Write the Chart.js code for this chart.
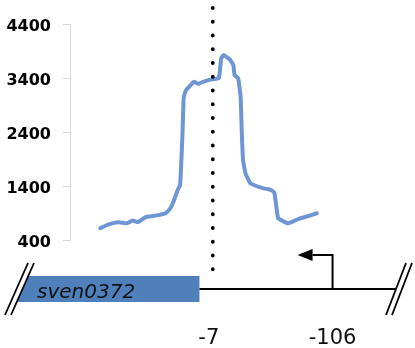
<!DOCTYPE html>
<html>
<head>
<meta charset="utf-8">
<script src="https://cdn.jsdelivr.net/npm/chart.js@4"></script>
<style>
  html, body { margin: 0; padding: 0; background: #fff; }
  #wrap { width: 415px; height: 348px; }
</style>
</head>
<body>
<div id="wrap"><canvas id="chart"></canvas></div>
<script>
// position relative to the sven0372 start (bp) and the signal read at it
const positions = [86, 79, 71, 64, 59, 55, 48, 42, 37, 32, 28, 26, 24, 22, 20, 18, 17, 15, 12, 9, 8, 5, 1,
  -6, -12, -14, -16, -21, -24, -25, -28, -30, -31, -32, -34, -38, -43, -49, -53, -56, -58, -61, -65, -69,
  -74, -79, -86, -93];
const signal = [620, 690, 730, 710, 760, 730, 830, 845, 865, 895, 990, 1080, 1200, 1325, 1420, 2380, 3050,
  3180, 3250, 3325, 3330, 3290, 3330, 3375, 3395, 3765, 3825, 3745, 3640, 3455, 3395, 3055, 2380, 1880,
  1635, 1450, 1400, 1355, 1340, 1315, 1265, 800, 750, 710, 750, 800, 845, 895];
const yTicks = [400, 1400, 2400, 3400, 4400];

// gene map drawn under the plot
const geneName = 'sven0372';
const geneEnd = 4;
const markPos = -7;
const tssPos = -106;
const mapEnd = -158;
const mapLabels = ['-7', '-106'];

const points = positions.map((p, i) => ({ x: p, y: signal[i] }));

function slash(ctx, x1, y1, x2, y2) {
  ctx.beginPath();
  ctx.moveTo(x1, y1);
  ctx.lineTo(x2, y2);
  ctx.stroke();
}

const mapPlugin = {
  id: 'geneMap',
  afterDraw(chart) {
    const ctx = chart.ctx;
    const xs = chart.scales.x;
    const px = v => xs.getPixelForValue(v);
    const yLine = 289;
    ctx.save();

    // gene box
    ctx.fillStyle = '#4f80bc';
    ctx.fillRect(14, 276, px(geneEnd) - 14, 26);
    // white gap of the left break mark
    ctx.fillStyle = '#fff';
    ctx.beginPath();
    ctx.moveTo(0, 255);
    ctx.lineTo(11 + 60 * 23 / 52, 255);
    ctx.lineTo(11 - 5 * 23 / 52, 320);
    ctx.lineTo(0, 320);
    ctx.closePath();
    ctx.fill();

    ctx.strokeStyle = '#000';
    ctx.lineWidth = 1.8;
    slash(ctx, 5, 315, 28, 263);
    slash(ctx, 11, 315, 34, 263);
    slash(ctx, 386, 315, 406, 263);
    slash(ctx, 392, 315, 412, 263);

    // promoter line and arrow
    ctx.lineWidth = 2;
    ctx.beginPath();
    ctx.moveTo(px(geneEnd), yLine);
    ctx.lineTo(px(mapEnd), yLine);
    ctx.stroke();
    const xt = px(tssPos);
    ctx.beginPath();
    ctx.moveTo(xt, yLine);
    ctx.lineTo(xt, 255);
    ctx.lineTo(xt - 20, 255);
    ctx.stroke();
    ctx.fillStyle = '#000';
    ctx.beginPath();
    ctx.moveTo(xt - 35, 255);
    ctx.lineTo(xt - 20, 249);
    ctx.lineTo(xt - 20, 261);
    ctx.closePath();
    ctx.fill();

    // dotted marker
    ctx.lineWidth = 3.8;
    ctx.lineCap = 'round';
    ctx.setLineDash([0.1, 13.65]);
    ctx.beginPath();
    ctx.moveTo(px(markPos), 8);
    ctx.lineTo(px(markPos), 282);
    ctx.stroke();
    ctx.setLineDash([]);

    // texts
    ctx.fillStyle = '#111';
    ctx.font = 'oblique 20px "DejaVu Sans"';
    ctx.textAlign = 'left';
    ctx.textBaseline = 'alphabetic';
    ctx.fillText(geneName, 37, 298);
    ctx.font = '21px "DejaVu Sans"';
    ctx.textAlign = 'center';
    ctx.fillText(mapLabels[0], px(markPos) - 4, 344);
    ctx.fillText(mapLabels[1], px(tssPos), 344);
    ctx.restore();
  }
};

new Chart(document.getElementById('chart'), {
  type: 'line',
  data: {
    datasets: [{
      data: points,
      borderColor: '#6e96d4',
      borderWidth: 4,
      pointRadius: 0,
      tension: 0.1,
      borderJoinStyle: 'round',
      borderCapStyle: 'round',
      fill: false
    }]
  },
  options: {
    responsive: true,
    maintainAspectRatio: false,
    animation: false,
    layout: { padding: { left: 0, right: 5, top: 24, bottom: 108 } },
    plugins: { legend: { display: false }, tooltip: { enabled: false } },
    scales: {
      x: {
        type: 'linear',
        reverse: true,
        min: -170,
        max: 111,
        display: false
      },
      y: {
        min: 400,
        max: 4400,
        afterFit(scale) { scale.width = 70; },
        afterBuildTicks(scale) { scale.ticks = yTicks.map(v => ({ value: v })); },
        ticks: {
          padding: 12,
          labelOffset: 3,
          color: '#000',
          font: { family: 'DejaVu Sans', size: 16, weight: 'bold' },
          callback: v => String(v)
        },
        grid: {
          drawOnChartArea: false,
          tickLength: 7,
          color: '#d9d9d9'
        },
        border: { color: '#d9d9d9' }
      }
    }
  },
  plugins: [mapPlugin]
});
</script>
</body>
</html>
